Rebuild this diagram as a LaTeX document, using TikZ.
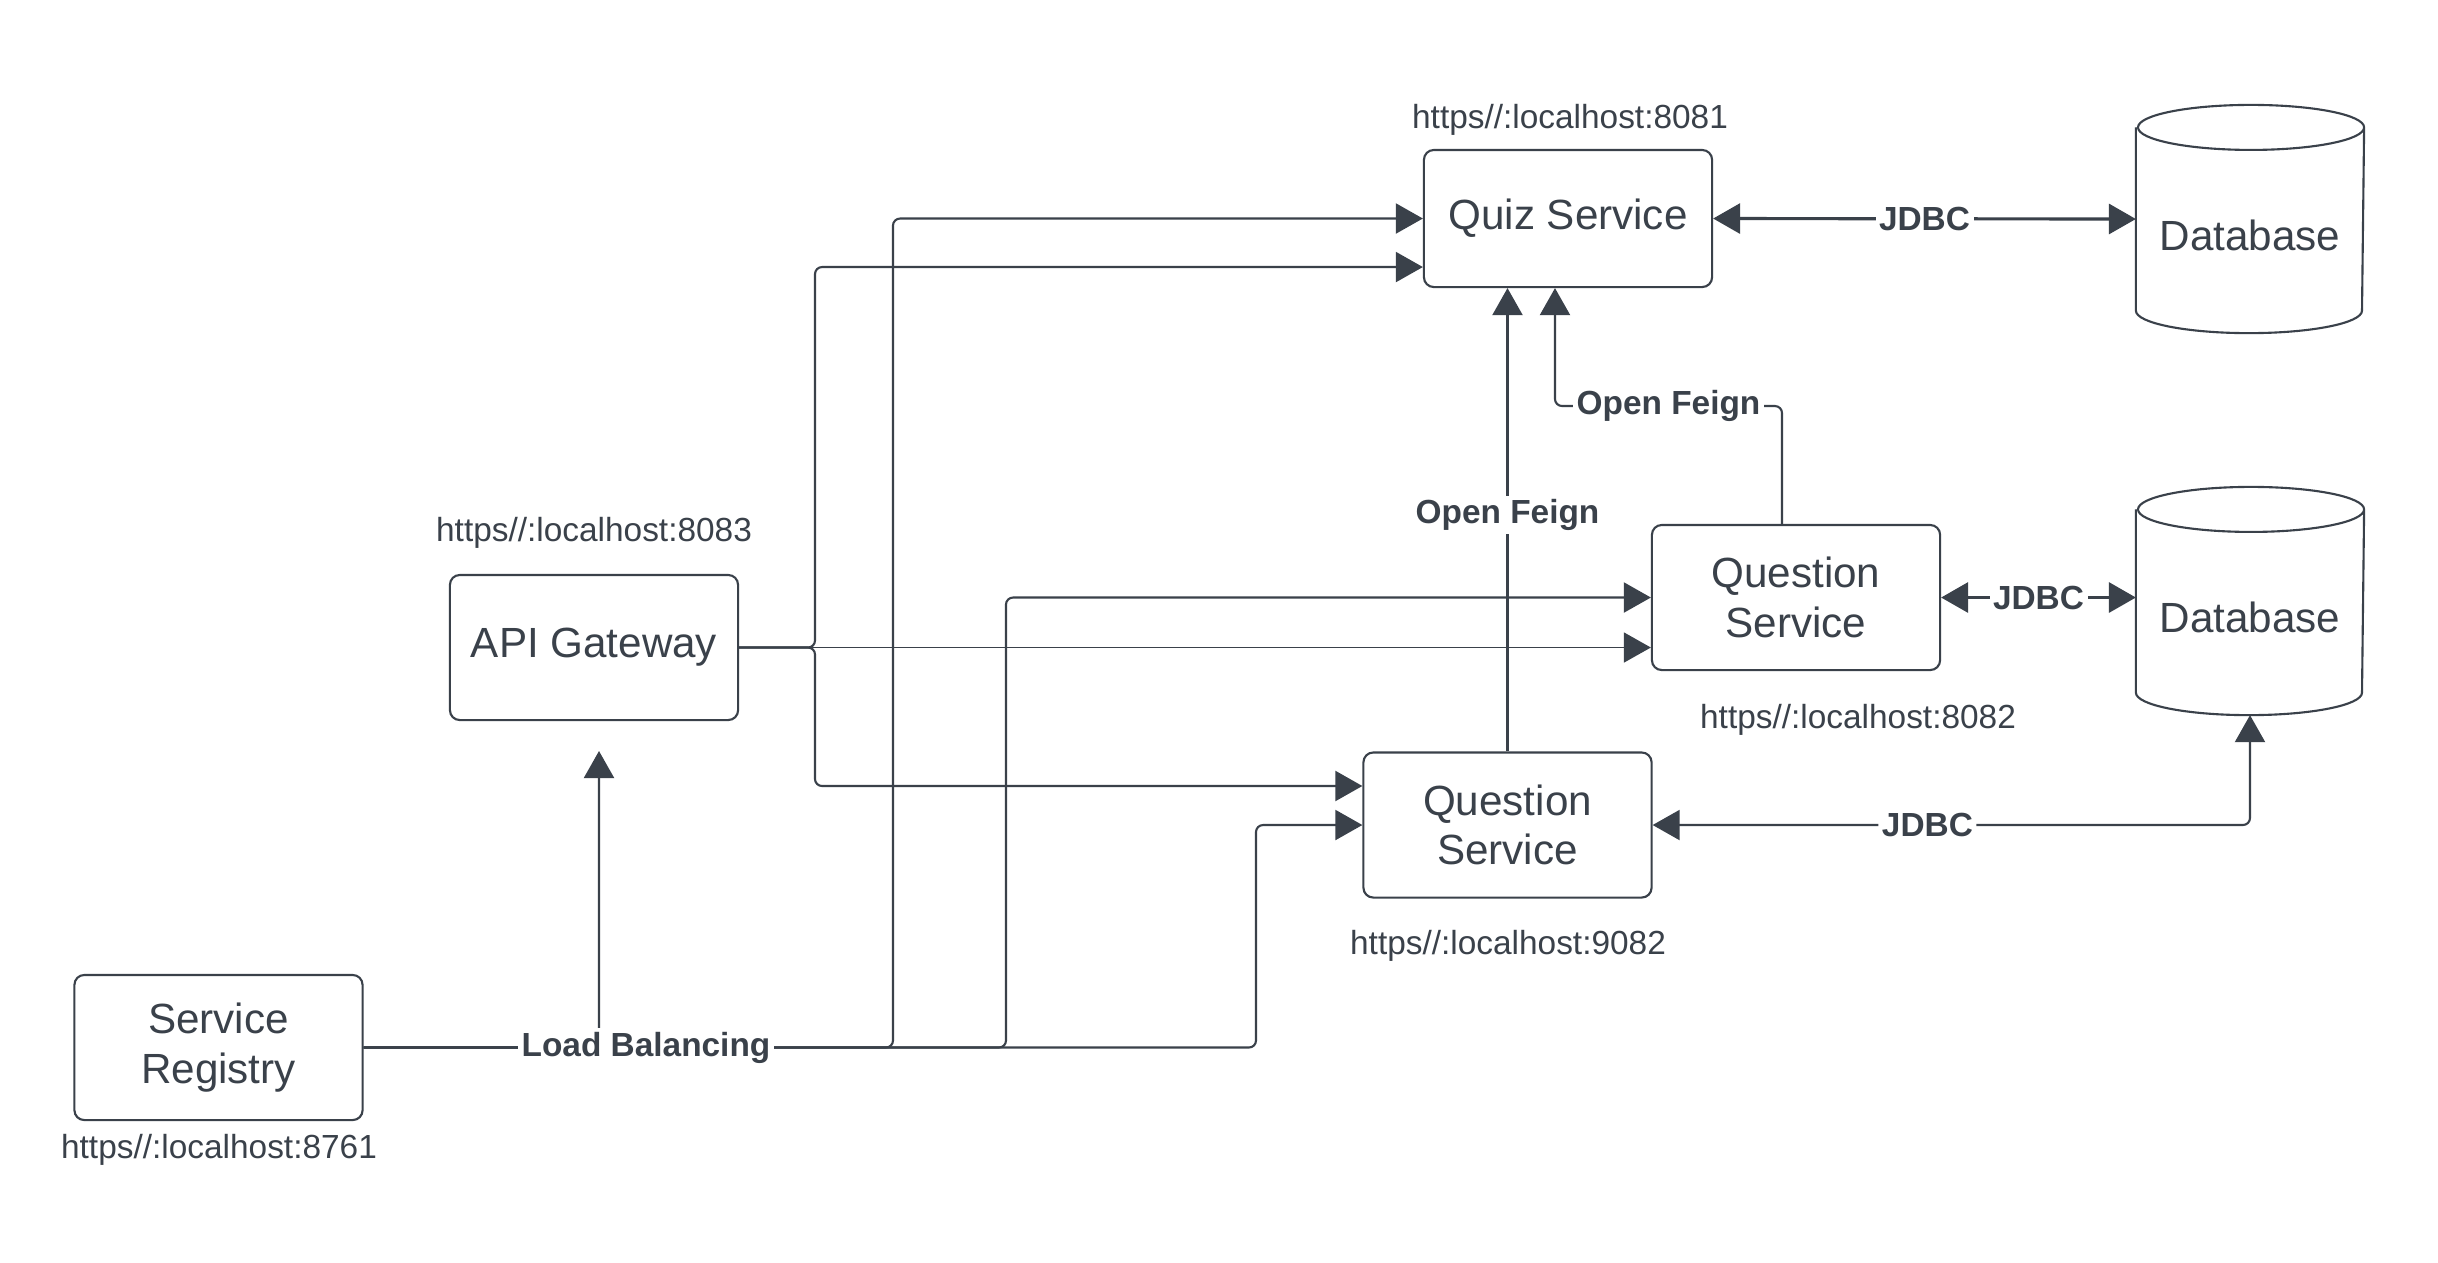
\documentclass[tikz,border=0pt]{standalone}
\usepackage{fontspec}
\setmainfont{Liberation Sans}
\usetikzlibrary{arrows.meta}
\definecolor{ink}{RGB}{58,65,74}

\begin{document}
\begin{tikzpicture}[x=0.01cm, y=-0.01cm, color=ink, line width=0.6pt,
    >={Triangle[length=0.27cm, width=0.3cm]},
    svc/.style={draw, rounded corners=2.8pt, minimum width=2.88cm, minimum height=1.45cm,
        align=center, font=\fontsize{12}{14.1}\selectfont},
    dbbox/.style={minimum width=2.26cm, minimum height=2.26cm, inner sep=0pt},
    url/.style={font=\fontsize{9.5}{11}\selectfont},
    tag/.style={fill=white, inner sep=1pt, font=\fontsize{9.5}{11}\selectfont\bfseries},
    wire/.style={rounded corners=2pt}]

    \path[fill=white] (0,0) rectangle (2438,1262);

    % Services
    \node[svc, minimum height=1.37cm] (quiz) at (1568,218.5) {Quiz Service};
    \node[svc] (qsA) at (1796,597.5) {Question\\Service};
    \node[svc] (qsB) at (1507.5,825) {Question\\Service};
    \node[svc] (gw) at (594,647.5) {API Gateway};
    \node[svc] (reg) at (218.5,1047.5) {Service\\Registry};

    % Databases
    \foreach \d/\y in {db1/219, db2/601} {
        \node[dbbox] (\d) at (2250,\y) {};
        \draw ([yshift=-0.225cm]\d.north west) -- ([yshift=0.225cm]\d.south west)
            arc[start angle=180, end angle=360, x radius=1.13cm, y radius=0.225cm]
            -- ([yshift=-0.225cm]\d.north east)
            arc[start angle=0, end angle=180, x radius=1.13cm, y radius=0.225cm]
            arc[start angle=180, end angle=360, x radius=1.13cm, y radius=0.225cm];
        \node[svc, draw=none] (\d text) at ([yshift=-0.16cm]\d.center) {Database};
    }

    % Addresses
    \foreach \p/\x/\y in {8081/1570/120, 8083/594/533, 8082/1858/720, 9082/1508/946, 8761/219/1150}
        \node[url] (url\p) at (\x,\y) {https//:localhost:\p};

    % Load balancing
    \coordinate (gwtip) at (599,751);
    \draw[->, wire] (reg.east) -| (gwtip);
    \draw[->, wire] (reg.east) -- (893,1047.5) |- (quiz.west);
    \draw[->, wire] (reg.east) -- (1006,1047.5) |- (qsA.west);
    \draw[->, wire] (reg.east) -- (1256,1047.5) |- (qsB.west);
    \node[tag] (lb) at (646,1047.5) {Load Balancing};

    % Gateway routes
    \draw[->, wire] (gw.east) -- (815,647.5) |- ([yshift=-0.485cm]quiz.west);
    \draw[->, line width=0.45pt] (gw.east) -- (gw.east -| qsA.west);
    \draw[->, wire] (gw.east) -- (815,647.5) |- ([yshift=0.39cm]qsB.west);

    % Open Feign
    \draw[->] (qsB.north) -- node[tag, pos=0.51] (feignA) {Open Feign} (qsB.north |- quiz.south);
    \draw[->, wire] ([xshift=-0.14cm]qsA.north) -- (1782,406)
        -- node[tag] (feignB) {Open Feign} (1555,406) -- ([xshift=-0.13cm]quiz.south);

    % JDBC
    \draw[<->, line width=0.9pt] (quiz.east) -- node[tag] (jdbcA) {JDBC} (db1.west);
    \draw[<->, line width=0.9pt] (qsA.east) -- node[tag] (jdbcB) {JDBC} (qsA.east -| db2.west);
    \draw[<->, wire] (db2.south) |- node[tag, pos=0.77] (jdbcC) {JDBC} (qsB.east);

\end{tikzpicture}
\end{document}
